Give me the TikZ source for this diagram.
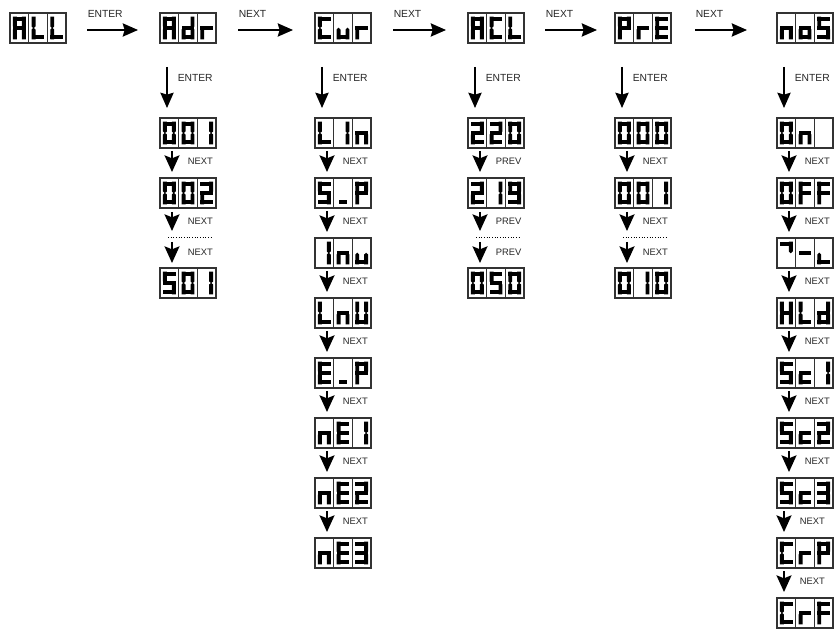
\documentclass[tikz,border=0pt]{standalone}
\usepackage{fontspec}
\setmainfont{Liberation Sans}
\usetikzlibrary{arrows.meta,calc}

% seven-segment geometry inside one cell (px units, y pointing down)
\def\sgXL{4.9}\def\sgXR{13.8}\def\sgYT{5.6}\def\sgYM{15}\def\sgYB{24.4}\def\sgW{1.95}
\def\ox{0}

% horizontal segments
\def\sgma{\fill[segment] (\ox+\sgXL-\sgW,\sgYT-\sgW) rectangle (\ox+\sgXR+\sgW,\sgYT+\sgW);}
\def\sgmd{\fill[segment] (\ox+\sgXL-\sgW,\sgYB-\sgW) rectangle (\ox+\sgXR+\sgW,\sgYB+\sgW);}
\def\sgmg{\fill[segment] (\ox+\sgXL-\sgW,\sgYM-\sgW) rectangle (\ox+\sgXR+\sgW,\sgYM+\sgW);}
\def\sgmx{\fill[segment] (\ox+\sgXL+0.8,\sgYB-\sgW) rectangle (\ox+\sgXR-0.8,\sgYB+\sgW);}
% vertical segments, pointed towards the middle bar
\def\sgmf{\fill[segment] (\ox+\sgXL-\sgW,\sgYT-\sgW) -- (\ox+\sgXL+\sgW,\sgYT-\sgW) -- (\ox+\sgXL+\sgW,\sgYM-\sgW+0.4) -- (\ox+\sgXL,\sgYM+0.3) -- (\ox+\sgXL-\sgW,\sgYM-\sgW+0.4) -- cycle;}
\def\sgme{\fill[segment] (\ox+\sgXL-\sgW,\sgYB+\sgW) -- (\ox+\sgXL+\sgW,\sgYB+\sgW) -- (\ox+\sgXL+\sgW,\sgYM+\sgW-0.4) -- (\ox+\sgXL,\sgYM-0.3) -- (\ox+\sgXL-\sgW,\sgYM+\sgW-0.4) -- cycle;}
\def\sgmb{\fill[segment] (\ox+\sgXR-\sgW,\sgYT-\sgW) -- (\ox+\sgXR+\sgW,\sgYT-\sgW) -- (\ox+\sgXR+\sgW,\sgYM-\sgW+0.4) -- (\ox+\sgXR,\sgYM+0.3) -- (\ox+\sgXR-\sgW,\sgYM-\sgW+0.4) -- cycle;}
\def\sgmc{\fill[segment] (\ox+\sgXR-\sgW,\sgYB+\sgW) -- (\ox+\sgXR+\sgW,\sgYB+\sgW) -- (\ox+\sgXR+\sgW,\sgYM+\sgW-0.4) -- (\ox+\sgXR,\sgYM-0.3) -- (\ox+\sgXR-\sgW,\sgYM+\sgW-0.4) -- cycle;}

\newcommand\drawglyph[1]{\foreach \s in {#1}{\csname sgm\s\endcsname}}

% characters
\def\dgA{\drawglyph{a,b,c,e,f,g}}
\def\dgL{\drawglyph{d,e,f}}
\def\dgd{\drawglyph{b,c,d,e,g}}
\def\dgr{\drawglyph{e,g}}
\def\dgC{\drawglyph{a,d,e,f}}
\def\dgu{\drawglyph{c,d,e}}
\def\dgU{\drawglyph{b,c,d,e,f}}
\def\dgn{\drawglyph{c,e,g}}
\def\dgo{\drawglyph{c,d,e,g}}
\def\dgc{\drawglyph{d,e,g}}
\def\dgP{\drawglyph{a,b,e,f,g}}
\def\dgE{\drawglyph{a,d,e,f,g}}
\def\dgF{\drawglyph{a,e,f,g}}
\def\dgH{\drawglyph{b,c,e,f,g}}
\def\dgS{\drawglyph{a,c,d,f,g}}
\def\dgus{\drawglyph{x}}
\def\dgdash{\drawglyph{g}}
\def\dgl{\drawglyph{d,e}}
\def\dgzero{\drawglyph{a,b,c,d,e,f}}
\def\dgone{\drawglyph{b,c}}
\def\dgtwo{\drawglyph{a,b,d,e,g}}
\def\dgthree{\drawglyph{a,b,c,d,g}}
\def\dgseven{\drawglyph{a,b}}
\def\dgnine{\drawglyph{a,b,c,d,f,g}}
\def\dgblank{}

\tikzset{
  segment/.style={fill=black},
  dispbox/.style={draw=black!80, line width=0.035cm, anchor=north west,
    minimum width=1.68cm, minimum height=0.9cm, inner sep=0pt, outer sep=0pt},
  cellsep/.style={draw=black!80, line width=0.035cm},
  bigarr/.style={line width=0.045cm, -{Stealth[length=0.46cm, width=0.4cm, inset=0.06cm]}},
  smallarr/.style={line width=0.05cm, -{Stealth[length=0.5cm, width=0.45cm, inset=0.09cm]}},
  biglbl/.style={font=\fontsize{8.8}{10}\selectfont, text=black!85, inner sep=0pt},
  smalllbl/.style={font=\fontsize{8}{9}\selectfont, text=black!85, inner sep=0pt},
  dotline/.style={line width=0.03cm, dash pattern=on 0.03cm off 0.05cm},
}

% three-digit display: name, top-left corner, three characters
\newcommand\showpanel[5]{%
  \node[dispbox] (#1) at (#2) {};
  \begin{scope}[shift={(#1.north west)}]
    \draw[cellsep] (18.667,0) -- (18.667,30) (37.333,0) -- (37.333,30);
    \def\ox{0}#3
    \def\ox{18.667}#4
    \def\ox{37.333}#5
  \end{scope}}

% short arrow between two displays of one column
\newcommand\nextarr[4]{%
  \draw[smallarr] ($(#1.south west)+(#4,3)$) -- ($(#2.north west)+(#4,-6)$)
    node[midway, smalllbl, anchor=west, xshift=0.45cm] {#3};}

% ENTER arrow from a menu entry to its first value
\newcommand\enterarr[3]{%
  \draw[bigarr] ($(#1.south west)+(#3,24)$) -- ($(#2.north west)+(#3,-10)$)
    node[pos=0.27, biglbl, anchor=west, xshift=0.3cm] {ENTER};}

% horizontal arrow between menu entries
\newcommand\menuarr[5]{%
  \draw[bigarr] ($(#1.east)+(#3,2)$) -- ($(#2.west)+(#4,2)$)
    node[pos=0, biglbl, anchor=south west, yshift=0.34cm] {#5};}

\begin{document}
\begin{tikzpicture}[x=0.03cm, y=-0.03cm]
\useasboundingbox (0,0) rectangle (834,629);

% menu row
\showpanel{all}{10,13}{\dgA}{\dgL}{\dgL}
\showpanel{adr}{160,13}{\dgA}{\dgd}{\dgr}
\showpanel{cur}{315,13}{\dgC}{\dgu}{\dgr}
\showpanel{acl}{468,13}{\dgA}{\dgC}{\dgL}
\showpanel{pre}{615,13}{\dgP}{\dgr}{\dgE}
\showpanel{nos}{777,13}{\dgn}{\dgo}{\dgS}

\menuarr{all}{adr}{21}{-22}{ENTER}
\menuarr{adr}{cur}{22}{-22}{NEXT}
\menuarr{cur}{acl}{22}{-22}{NEXT}
\menuarr{acl}{pre}{21}{-18}{NEXT}
\menuarr{pre}{nos}{24}{-30}{NEXT}

% address
\showpanel{a1}{160,118}{\dgzero}{\dgzero}{\dgone}
\showpanel{a2}{160,178}{\dgzero}{\dgzero}{\dgtwo}
\coordinate (adots) at (172,238);
\showpanel{a3}{160,268}{\dgS}{\dgzero}{\dgone}
\enterarr{adr}{a1}{7}
\nextarr{a1}{a2}{NEXT}{12}
\draw[smallarr] ($(a2.south west)+(12,4)$) -- ($(adots)+(0,-7)$)
  node[midway, smalllbl, anchor=west, xshift=0.45cm] {NEXT};
\draw[dotline] ($(adots)+(-4,0)$) -- ($(adots)+(40,0)$);
\draw[smallarr] ($(adots)+(0,4)$) -- ($(a3.north west)+(12,-5)$)
  node[midway, smalllbl, anchor=west, xshift=0.45cm] {NEXT};

% current input type
\showpanel{c1}{315,118}{\dgL}{\dgone}{\dgn}
\showpanel{c2}{315,178}{\dgS}{\dgus}{\dgP}
\showpanel{c3}{315,238}{\dgone}{\dgn}{\dgu}
\showpanel{c4}{315,298}{\dgL}{\dgn}{\dgU}
\showpanel{c5}{315,358}{\dgE}{\dgus}{\dgP}
\showpanel{c6}{315,418}{\dgn}{\dgE}{\dgone}
\showpanel{c7}{315,478}{\dgn}{\dgE}{\dgtwo}
\showpanel{c8}{315,538}{\dgn}{\dgE}{\dgthree}
\enterarr{cur}{c1}{7}
\nextarr{c1}{c2}{NEXT}{12}
\nextarr{c2}{c3}{NEXT}{12}
\nextarr{c3}{c4}{NEXT}{12}
\nextarr{c4}{c5}{NEXT}{12}
\nextarr{c5}{c6}{NEXT}{12}
\nextarr{c6}{c7}{NEXT}{12}
\nextarr{c7}{c8}{NEXT}{12}

% AC line value
\showpanel{v1}{468,118}{\dgtwo}{\dgtwo}{\dgzero}
\showpanel{v2}{468,178}{\dgtwo}{\dgone}{\dgnine}
\coordinate (vdots) at (480,238);
\showpanel{v3}{468,268}{\dgzero}{\dgS}{\dgzero}
\enterarr{acl}{v1}{7}
\nextarr{v1}{v2}{PREV}{12}
\draw[smallarr] ($(v2.south west)+(12,4)$) -- ($(vdots)+(0,-7)$)
  node[midway, smalllbl, anchor=west, xshift=0.45cm] {PREV};
\draw[dotline] ($(vdots)+(-4,0)$) -- ($(vdots)+(40,0)$);
\draw[smallarr] ($(vdots)+(0,4)$) -- ($(v3.north west)+(12,-5)$)
  node[midway, smalllbl, anchor=west, xshift=0.45cm] {PREV};

% preset
\showpanel{p1}{615,118}{\dgzero}{\dgzero}{\dgzero}
\showpanel{p2}{615,178}{\dgzero}{\dgzero}{\dgone}
\coordinate (pdots) at (627,238);
\showpanel{p3}{615,268}{\dgzero}{\dgone}{\dgzero}
\enterarr{pre}{p1}{7}
\nextarr{p1}{p2}{NEXT}{12}
\draw[smallarr] ($(p2.south west)+(12,4)$) -- ($(pdots)+(0,-7)$)
  node[midway, smalllbl, anchor=west, xshift=0.45cm] {NEXT};
\draw[dotline] ($(pdots)+(-4,0)$) -- ($(pdots)+(40,0)$);
\draw[smallarr] ($(pdots)+(0,4)$) -- ($(p3.north west)+(12,-5)$)
  node[midway, smalllbl, anchor=west, xshift=0.45cm] {NEXT};

% modes
\showpanel{m1}{777,118}{\dgzero}{\dgn}{\dgblank}
\showpanel{m2}{777,178}{\dgzero}{\dgF}{\dgF}
\showpanel{m3}{777,238}{\dgseven}{\dgdash}{\dgl}
\showpanel{m4}{777,298}{\dgH}{\dgL}{\dgd}
\showpanel{m5}{777,358}{\dgS}{\dgc}{\dgone}
\showpanel{m6}{777,418}{\dgS}{\dgc}{\dgtwo}
\showpanel{m7}{777,478}{\dgS}{\dgc}{\dgthree}
\showpanel{m8}{777,538}{\dgC}{\dgr}{\dgP}
\showpanel{m9}{777,598}{\dgC}{\dgr}{\dgF}
\enterarr{nos}{m1}{7}
\nextarr{m1}{m2}{NEXT}{12}
\nextarr{m2}{m3}{NEXT}{12}
\nextarr{m3}{m4}{NEXT}{12}
\nextarr{m4}{m5}{NEXT}{12}
\nextarr{m5}{m6}{NEXT}{12}
\nextarr{m6}{m7}{NEXT}{12}
\nextarr{m7}{m8}{NEXT}{7}
\nextarr{m8}{m9}{NEXT}{7}
\end{tikzpicture}
\end{document}
